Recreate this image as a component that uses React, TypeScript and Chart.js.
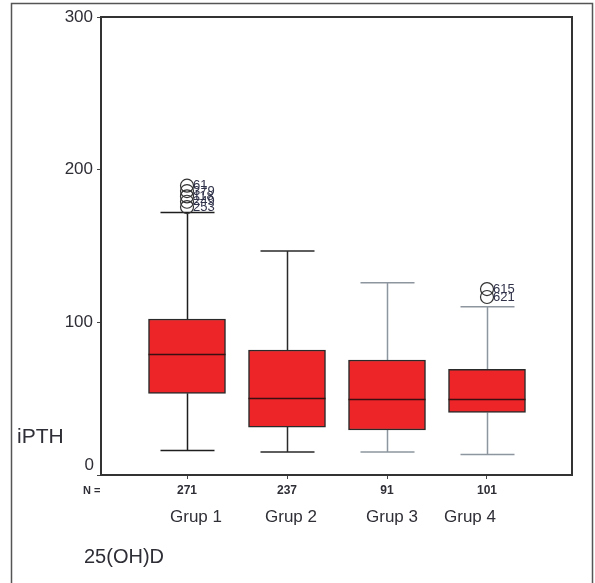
import { useEffect, useRef } from 'react';
import { Chart, registerables } from 'chart.js';

Chart.register(...registerables);

const groups = ['Grup 1', 'Grup 2', 'Grup 3', 'Grup 4'];
const nCounts = ['271', '237', '91', '101'];
const whiskerLow = [16, 15, 15, 13.5];
const q1 = [53.5, 31.4, 29.5, 41];
const median = [79, 50.4, 49.8, 49.6];
const q3 = [102.2, 81.9, 75.3, 69.2];
const whiskerHigh = [172, 146.7, 126, 110.2];
const outlierGroup = [1, 1, 1, 1, 1, 4, 4];
const outlierValues = [189.5, 186, 182.5, 179, 175.5, 121.8, 116.6];
const outlierLabels = ['61', '379', '118', '249', '253', '615', '621'];
const yTicks = [0, 100, 200, 300];

const FONT = '"Liberation Sans", Arial, sans-serif';
const TEXT = '#2e2e36';
const whiskerColors = ['#1e1e1e', '#2a2a2a', '#8d969e', '#8d969e'];
const groupLabelShift = [9, 4, 5, -17];

const boxPlugin = {
  id: 'boxExtras',
  beforeDraw(chart: any) {
    const ctx = chart.ctx;
    ctx.save();
    ctx.fillStyle = '#ffffff';
    ctx.fillRect(0, 0, chart.width, chart.height);
    ctx.strokeStyle = '#555';
    ctx.lineWidth = 1.5;
    ctx.beginPath();
    ctx.moveTo(11.5, chart.height);
    ctx.lineTo(11.5, 3.5);
    ctx.lineTo(592.5, 3.5);
    ctx.lineTo(592.5, chart.height);
    ctx.stroke();
    ctx.restore();
  },
  beforeDatasetsDraw(chart: any) {
    const ctx = chart.ctx;
    const xs = chart.scales.x;
    const ys = chart.scales.y;
    ctx.save();
    groups.forEach((_, i) => {
      const cx = Math.round(xs.getPixelForValue(i + 1)) + 0.5;
      const half = xs.getPixelForValue(i + 1.27) - xs.getPixelForValue(i + 1);
      ctx.strokeStyle = whiskerColors[i];
      ctx.lineWidth = 1.5;
      const yLo = ys.getPixelForValue(whiskerLow[i]);
      const yHi = ys.getPixelForValue(whiskerHigh[i]);
      ctx.beginPath();
      ctx.moveTo(cx, ys.getPixelForValue(q1[i]));
      ctx.lineTo(cx, yLo);
      ctx.moveTo(cx, ys.getPixelForValue(q3[i]));
      ctx.lineTo(cx, yHi);
      ctx.moveTo(cx - half, yLo);
      ctx.lineTo(cx + half, yLo);
      ctx.moveTo(cx - half, yHi);
      ctx.lineTo(cx + half, yHi);
      ctx.stroke();
    });
    ctx.restore();
  },
  afterDatasetsDraw(chart: any) {
    const ctx = chart.ctx;
    const xs = chart.scales.x;
    const ys = chart.scales.y;
    const a = chart.chartArea;
    ctx.save();
    // medians
    groups.forEach((_, i) => {
      const cx = xs.getPixelForValue(i + 1);
      const half = xs.getPixelForValue(i + 1.385) - cx;
      const my = Math.round(ys.getPixelForValue(median[i])) + 0.5;
      ctx.strokeStyle = '#3a1010';
      ctx.lineWidth = 1.5;
      ctx.beginPath();
      ctx.moveTo(cx - half, my);
      ctx.lineTo(cx + half, my);
      ctx.stroke();
    });
    // plot frame
    ctx.strokeStyle = '#333';
    ctx.lineWidth = 2;
    ctx.strokeRect(a.left, a.top, a.right - a.left, a.bottom - a.top);
    // outlier labels
    ctx.fillStyle = '#30324a';
    ctx.font = '13px ' + FONT;
    ctx.textAlign = 'left';
    ctx.textBaseline = 'middle';
    outlierValues.forEach((v, k) => {
      const px = xs.getPixelForValue(outlierGroup[k]);
      const py = ys.getPixelForValue(v);
      ctx.fillText(outlierLabels[k], px + 6, py);
    });
    // zero tick label, raised above the axis line as in the reference
    ctx.fillStyle = TEXT;
    ctx.font = '17px ' + FONT;
    ctx.textAlign = 'right';
    ctx.fillText(String(yTicks[0]), 94, ys.getPixelForValue(yTicks[0]) - 10);
    // texts
    ctx.textAlign = 'left';
    ctx.font = '21px ' + FONT;
    ctx.fillText('iPTH', 17, 437);
    ctx.font = 'bold 11px ' + FONT;
    ctx.fillText('N =', 83, 491);
    ctx.font = '17px ' + FONT;
    ctx.textAlign = 'center';
    groups.forEach((g, i) => {
      ctx.fillText(g, xs.getPixelForValue(i + 1) + groupLabelShift[i], 517);
    });
    ctx.textAlign = 'left';
    ctx.font = '20px ' + FONT;
    ctx.fillText('25(OH)D', 84, 557);
    ctx.restore();
  },
};

export default function App() {
  const ref = useRef<HTMLCanvasElement | null>(null);
  useEffect(() => {
    if (!ref.current) return;
    const chart = new Chart(ref.current, {
      type: 'bar',
      data: {
        datasets: [
          {
            type: 'bar',
            data: groups.map((_, i) => ({ x: i + 1, y: [q1[i], q3[i]] })) as any,
            backgroundColor: '#ed2529',
            borderColor: '#2a2a2a',
            borderWidth: 1.5,
            borderSkipped: false,
            barThickness: 77,
          } as any,
          {
            type: 'scatter',
            data: outlierValues.map((v, k) => ({ x: outlierGroup[k], y: v })),
            pointStyle: 'circle',
            pointRadius: 6.5,
            borderColor: '#333',
            backgroundColor: 'rgba(0,0,0,0)',
            borderWidth: 1.2,
          } as any,
        ],
      },
      options: {
        responsive: false,
        animation: false,
        events: [],
        layout: { padding: { left: 0, top: 17, right: 23, bottom: 0 } },
        plugins: { legend: { display: false }, tooltip: { enabled: false } },
        scales: {
          x: {
            type: 'linear',
            min: 0.14,
            max: 4.85,
            offset: false,
            grid: { display: true, drawOnChartArea: false, drawTicks: true, tickLength: 4, color: '#444', offset: false },
            border: { display: true, color: '#333', width: 2 },
            afterBuildTicks: (s: any) => {
              s.ticks = groups.map((_, i) => ({ value: i + 1 }));
            },
            afterFit: (s: any) => {
              s.height = 108;
            },
            ticks: {
              autoSkip: false,
              maxRotation: 0,
              padding: 4,
              color: TEXT,
              font: { family: FONT, size: 12, weight: 'bold' },
              callback: (v: any) => nCounts[Number(v) - 1] ?? '',
            },
          },
          y: {
            type: 'linear',
            min: 0,
            max: 300,
            grid: { display: true, drawOnChartArea: false, drawTicks: true, tickLength: 4, color: '#444' },
            border: { display: true, color: '#333', width: 2 },
            afterBuildTicks: (s: any) => {
              s.ticks = yTicks.map((v) => ({ value: v }));
            },
            afterFit: (s: any) => {
              s.width = 101;
            },
            ticks: {
              padding: 4,
              color: TEXT,
              font: { family: FONT, size: 17 },
              callback: (v: any) => (Number(v) === 0 ? '' : String(v)),
            },
          },
        },
      } as any,
      plugins: [boxPlugin],
    });
    return () => chart.destroy();
  }, []);
  return (
    <div style={{ position: 'fixed', left: 0, top: 0, width: 595, height: 583 }}>
      <canvas ref={ref} width={595} height={583} style={{ width: 595, height: 583, display: 'block' }} />
    </div>
  );
}
